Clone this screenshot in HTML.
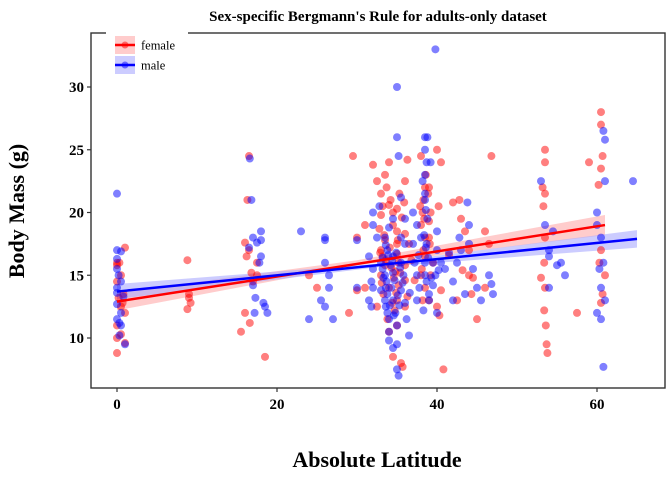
<!DOCTYPE html>
<html><head><meta charset="utf-8"><style>
body{margin:0;background:#fff;}
svg{display:block;font-family:"Liberation Serif",serif;}
</style></head><body>
<svg id="chart" width="672" height="480">
<text x="378" y="21" text-anchor="middle" font-size="15" font-weight="bold">Sex-specific Bergmann's Rule for adults-only dataset</text>
<text x="377" y="467" text-anchor="middle" font-size="22" font-weight="bold">Absolute Latitude</text>
<text transform="translate(24,211) rotate(-90)" text-anchor="middle" font-size="22" font-weight="bold">Body Mass (g)</text>
<g id="bands"></g>
<g id="pts"></g>
<g id="lines"></g>
<rect x="91" y="33" width="574" height="355" fill="none" stroke="#333" stroke-width="1.4"/>
<g id="axes"></g>
<g>
<rect x="106" y="28" width="82" height="50" fill="#fff"/>
<g>
<rect x="115" y="36" width="20" height="18" fill="#ffcccc"/>
<line x1="115" y1="45" x2="135" y2="45" stroke="#f00" stroke-width="2.5"/>
<circle cx="125" cy="45" r="3.5" fill="#f00" fill-opacity="0.5"/>
<text x="141" y="49.5" font-size="12.5">female</text></g>
<g>
<rect x="115" y="56" width="20" height="18" fill="#ccccff"/>
<line x1="115" y1="65" x2="135" y2="65" stroke="#00f" stroke-width="2.5"/>
<circle cx="125" cy="65" r="3.5" fill="#00f" fill-opacity="0.5"/>
<text x="141" y="69.5" font-size="12.5">male</text></g>
</g>
</svg>
<script>
const xTicks=[0,20,40,60];
const yTicks=[10,15,20,25,30];
const femaleLat=[0,0,0.5,0,0.8,0.5,1,0,0.5,0,1,0,1,0.3,0.7,0.2,8.8,9,9.2,8.8,9,16.5,16.3,16,16.5,16.2,17,16.8,17.5,16,15.5,16.6,18.5,17.5,24,25,29.5,30,30,29,31,31,32,32.5,33,33.2,33,32.8,33.5,33,33.2,33.5,33,34,33.3,32.5,33.8,34,34,33.5,34.2,34.5,34.5,35,35,35,35.2,34.8,35.2,35,34.7,35,34.5,35.5,35.7,35,36,36.3,36,36.5,36,36,36.3,36,35.9,38,38.5,38.3,38.2,38,38.5,38.3,38.5,38,38.5,38.2,39,39.2,39,39,39.5,39.2,39,40,40.5,40.2,40.5,40,40.3,40.8,42,43,43.5,44,44,44.5,44.3,42.5,46,46.5,46.8,46,45,42.8,53.5,53.5,53.2,53.5,53.3,53.5,53.4,53,53.5,53.4,53.6,53.7,53.8,57.5,59,60.5,60.5,60.7,60.5,60.2,60.5,60.3,60.7,60.5,61,
33.4,33.6,34.1,34.3,34.6,34.9,35.3,35.6,33.1,32.9,34.4,35.1,34.0,33.7,35.4,38.6,38.4,38.9,39.1,38.1,37.9,36.8,37.2,41.5,43.2];
const femaleMass=[16,15.8,15,14.5,13.5,12.5,12,11,10.3,10,9.6,8.8,17.2,16,12.8,13.2,16.2,13.2,12.8,12.3,13.5,24.5,21,17.6,17,16.5,14.5,15.2,15,12,10.5,11.2,8.5,16,15,14,24.5,18,13.8,12,19,14,23.8,22.5,21.5,20.5,19.8,18.7,17.8,17,16.5,15.8,15,14,13.5,12.5,11.5,10.5,24,23,21,20,19,18.5,17.5,16.7,16,15.3,14.2,13,12.2,11,8.5,8,7.7,20.3,22.5,24.2,18.3,17.5,15.8,14.6,13.3,12.5,20.8,24.5,22,21,20,19,18,17,16.5,15,14,13,22,20,19.3,18,16,15,13,25,24,20.5,13.8,12.5,11.8,7.5,20.8,19.5,18.5,17,15,14.8,13.5,13,14,17.5,24.5,18.5,11.5,21,25,24,22,21.5,20.5,18,16,14.8,14,12.2,11,9.5,8.8,12,24,28,27,24.5,23.5,22.2,17,16,13.5,12.8,15,
18.2,16.2,17.2,15.6,14.8,13.6,21.5,19.6,14.4,16.8,12.8,17.8,20.6,22,15.2,23,19.5,21.5,17.5,15.5,20.5,16.2,14.6,16.6,15.4];
const maleLat=[0,0,0.5,0,0,0.2,0.5,0,0,0.8,0,0.5,0,0.3,0.5,0.3,1,16.6,16.8,17,16.5,18,18,17.5,18,17.8,17,17.3,18.5,18.8,18.3,17.2,23,24,26,26,26,26.5,26.5,25.5,26,27,30,30,31.5,32,31.8,32,31.5,31.8,32,32.8,32.5,32,33,33.2,33.5,33.7,33.6,33.8,33.5,33.6,33.8,34,34,34,34.5,33.8,33.5,34,34.5,34.5,34.3,34.5,34.8,35,35,35,35.2,34.5,35,35,35.2,35.5,35.5,35.5,35.8,35.5,36,36.2,36.5,36,36,37,37.2,37.5,37.8,37.5,37,37.5,38,38.5,38.5,38.7,38.5,38.5,38.5,38.8,38.7,38.5,38.5,38.7,39,39,39.5,39.5,40,39.8,39.8,40,40.5,40,38.8,39.2,41,42,41.5,42.5,42,42.8,43,43.8,44,44,44.5,45,45.5,46.5,46.8,47,43.5,53,53.5,54,54,54.5,55,55.5,56,54,60,60,60.5,60.8,60.3,60,60.5,60.8,61,61,60.8,60.5,61,64.5,
33.3,33.9,34.2,34.7,35.1,35.4,33.0,34.1,34.6,35.3,33.6,34.9,38.4,38.6,38.9,39.3,38.2,38.6,37.7,40.2,36.6,34.4,35.7,33.2,38.3];
const maleMass=[21.5,17,16.9,16.3,15.5,15,14.5,14,13.6,13.3,12.7,12,11.5,11.2,11,10.2,9.5,24.3,21,18,17.2,18.5,17.8,17.6,16.5,16,14.2,13.2,12.5,12,12.8,12,18.5,11.5,18,17.8,16,15,14,13,12.5,11.5,17.8,14,16.5,15.5,14.5,14,13,12.5,19,20.5,18,20,16,15.5,15,14.5,14,13.5,13,12.5,12,11.5,10.5,9.8,9.2,17,18,18.8,16.5,15.2,14,13,12,11,9.5,7.5,7,19.5,30,26,24.5,21.2,18,16,15,13.8,12.8,11.5,10.2,19.5,17.5,17.5,16,15,14,13,20,19,18,26,25,24,23,21.5,21,19.5,17.5,16,15,14.5,13.5,13,14.2,16,17,15,33,12,16,18.5,26,24,15.5,14.5,16.8,16,13,18,17,20.8,19,17.5,15.5,14,13,15,14.3,13.5,13.5,22.5,19,17,16.5,18.5,15.8,16,15,14,20,19,18,16,15.5,12,11.5,26.5,25.8,22.5,7.7,14,13,22.5,
14.8,16.6,15.8,14.6,13.4,15.6,13.8,12.6,11.8,12.6,17.4,16.8,18.2,17.2,16.4,14.8,22.5,20.2,16.6,15.4,13.6,16.2,14.4,16.4,12.2];
const femaleFit=[[0,12.2,12.9,13.6],[30,15.8,16,16.2],[61,18.2,19.0,19.8]];
const maleFit=[[0,13.1,13.7,14.3],[32,15.6,15.75,15.9],[65,17.2,17.9,18.6]];

const X0=91,X1=665,Y0=33,Y1=388;
const xs=v=>117+v*8;
const ys=v=>338-(v-10)*12.55;
const NS="http://www.w3.org/2000/svg";
function mk(tag,attrs,parent){const e=document.createElementNS(NS,tag);for(const k in attrs)e.setAttribute(k,attrs[k]);parent.appendChild(e);return e;}
const axes=document.getElementById('axes');
xTicks.forEach(t=>{
  const l=mk('line',{x1:xs(t),x2:xs(t),y1:Y1,y2:Y1+4,stroke:'#333','stroke-width':1.2},axes);
  
  
  const tx=mk('text',{x:xs(t),y:Y1+21,'text-anchor':'middle','font-size':15,'font-weight':'bold'},axes);
  tx.textContent=t;
  
  
});
yTicks.forEach(t=>{
  const l=mk('line',{x1:X0-4,x2:X0,y1:ys(t),y2:ys(t),stroke:'#333','stroke-width':1.2},axes);
  
  
  const tx=mk('text',{x:X0-7,y:ys(t)+5,'text-anchor':'end','font-size':15,'font-weight':'bold'},axes);
  tx.textContent=t;
  
  
});
const pts=document.getElementById('pts');
function drawPts(lat,mass,col,name){
  lat.forEach((v,i)=>{
    const c=mk('circle',{cx:xs(v),cy:ys(mass[i]),r:4,fill:col,'fill-opacity':0.5},pts);
    
    
  });
}
drawPts(femaleLat,femaleMass,'#ff0000','female-point');
drawPts(maleLat,maleMass,'#0000ff','male-point');
const bands=document.getElementById('bands'),lines=document.getElementById('lines');
function drawFit(fit,band,col,name){
  const top=fit.map(f=>xs(f[0])+','+ys(f[3])).join(' ');
  const bot=fit.slice().reverse().map(f=>xs(f[0])+','+ys(f[1])).join(' ');
  const p=mk('polygon',{points:top+' '+bot,fill:band,'fill-opacity':0.6},bands);
  
  
  const f0=fit[0],f1=fit[fit.length-1];
  const l=mk('line',{x1:xs(f0[0]),y1:ys(f0[2]),x2:xs(f1[0]),y2:ys(f1[2]),stroke:col,'stroke-width':2.5},lines);
  
  
}
drawFit(femaleFit,'#ffaaaa','#ff0000','female');
drawFit(maleFit,'#aaaaff','#0000ff','male');
</script>
</body></html>
